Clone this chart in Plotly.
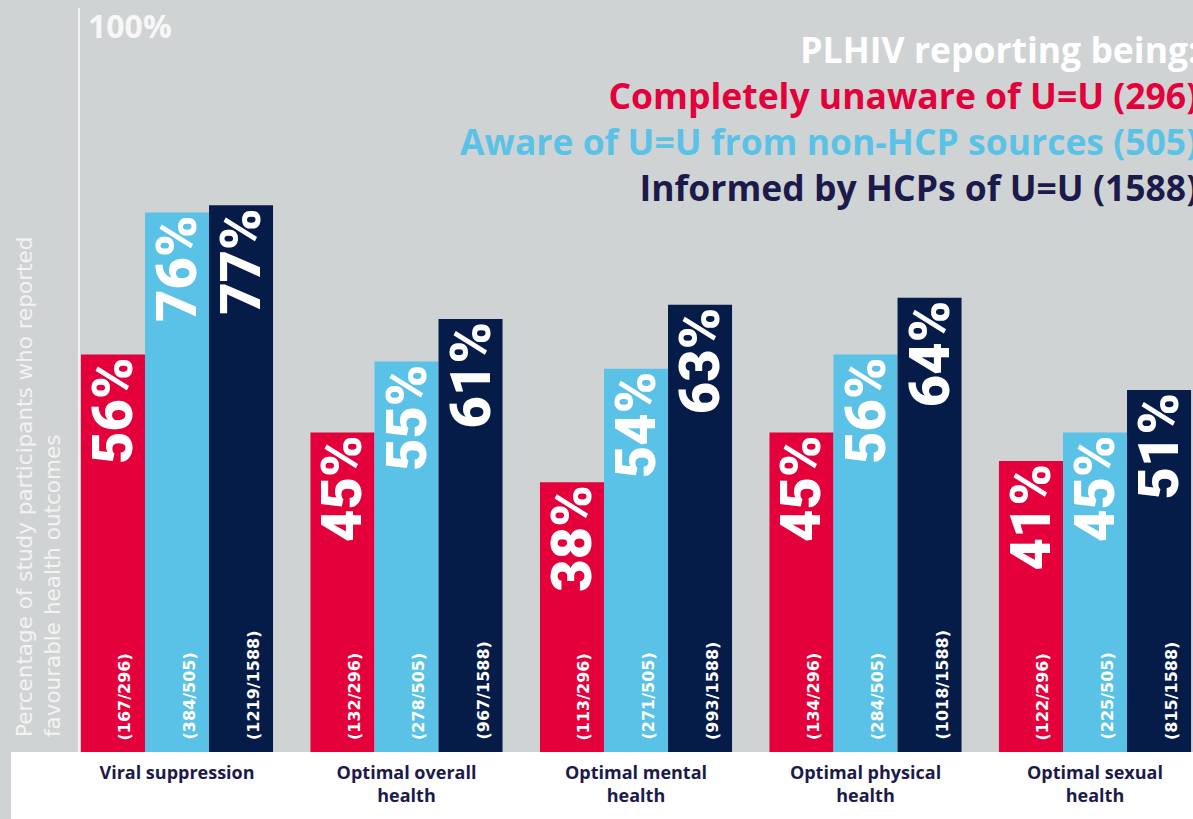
import plotly.graph_objects as go

categories = ["Viral suppression", "Optimal overall health", "Optimal mental health",
              "Optimal physical health", "Optimal sexual health"]
tick_labels = ["Viral suppression", "Optimal overall<br>health", "Optimal mental<br>health",
               "Optimal physical<br>health", "Optimal sexual<br>health"]
series_names = ["Completely unaware of U=U (296)",
                "Aware of U=U from non-HCP sources (505)",
                "Informed by HCPs of U=U (1588)"]
unaware_pct = [56, 45, 38, 45, 41]
aware_pct = [76, 55, 54, 56, 45]
informed_pct = [77, 61, 63, 64, 51]
unaware_counts = ["(167/296)", "(132/296)", "(113/296)", "(134/296)", "(122/296)"]
aware_counts = ["(384/505)", "(278/505)", "(271/505)", "(284/505)", "(225/505)"]
informed_counts = ["(1219/1588)", "(967/1588)", "(993/1588)", "(1018/1588)", "(815/1588)"]

RED = "#e4003b"
BLUE = "#5bc2e7"
NAVY = "#061c48"
GREY = "#d0d3d4"
TEXT_NAVY = "#1c1a4b"

values = [unaware_pct, aware_pct, informed_pct]
counts = [unaware_counts, aware_counts, informed_counts]
colors = [RED, BLUE, NAVY]

BARGAP = 0.163
fig = go.Figure()
for name, vals, col in zip(series_names, values, colors):
    fig.add_trace(go.Bar(
        x=categories, y=vals, name=name, marker=dict(color=col, line=dict(width=0)),
        text=[f"{v}%" for v in vals], textposition="inside", insidetextanchor="end",
        textangle=-90, constraintext="none",
        textfont=dict(family="Roboto", size=56, color="white", weight=900),
        hoverinfo="skip", showlegend=False,
    ))

annotations = []
bar_w = (1 - BARGAP) / 3
for j, cts in enumerate(counts):
    for i, t in enumerate(cts):
        annotations.append(dict(
            x=i + (j - 1) * bar_w, y=0, xref="x", yref="y", text=t, showarrow=False,
            textangle=-90, xanchor="center", yanchor="bottom", xshift=12, yshift=10,
            font=dict(family="DejaVu Sans", size=16, color="white", weight="bold"),
        ))

# y-axis title
annotations.append(dict(
    x=-0.0377, y=0, xref="paper", yref="paper", yanchor="bottom", xanchor="center",
    yshift=13, textangle=-90, showarrow=False, align="left",
    text="Percentage of study participants who reported<br>favourable health outcomes",
    font=dict(family="DejaVu Sans", size=21.5, color="#f2f3f3"),
))
# 100% label
annotations.append(dict(
    x=0.005, y=1, xref="paper", yref="paper", xanchor="left", yanchor="top", yshift=6,
    showarrow=False, text="100%",
    font=dict(family="Open Sans", size=32, color="#f7f7f7", weight="bold"),
))
# legend block
legend_text = ("<span style='color:#ffffff'>PLHIV reporting being:</span><br>"
               f"<span style='color:{RED}'>{series_names[0]}</span><br>"
               f"<span style='color:{BLUE}'>{series_names[1]}</span><br>"
               f"<span style='color:{TEXT_NAVY}'>{series_names[2]}</span>")
annotations.append(dict(
    x=1.006, y=1, xref="paper", yref="paper", xanchor="right", yanchor="top", yshift=-15,
    align="right", showarrow=False, text=legend_text,
    font=dict(family="Open Sans", size=35.5, weight="bold"),
))

fig.update_layout(
    width=1193, height=819,
    margin=dict(l=80, r=0, t=8, b=67),
    paper_bgcolor=GREY, plot_bgcolor=GREY,
    barmode="group", bargap=BARGAP, bargroupgap=0,
    annotations=annotations,
    shapes=[dict(type="rect", xref="paper", yref="paper",
                 x0=(11 - 80) / 1113, x1=1.01, y0=-67 / 744, y1=0,
                 fillcolor="white", line=dict(width=0), layer="below")],
    xaxis=dict(range=[-0.4227, 4.427], tickmode="array", tickvals=categories,
               ticktext=tick_labels, showgrid=False, zeroline=False, showline=False,
               ticks="outside", ticklen=4, tickcolor="rgba(0,0,0,0)",
               tickfont=dict(family="Open Sans", size=18, color=TEXT_NAVY, weight="bold")),
    yaxis=dict(range=[0, 104.8], showticklabels=False, showgrid=False, zeroline=False,
               showline=True, linecolor="#f4f4f4", linewidth=2, ticks=""),
)

fig.write_html("out.html", config={"displayModeBar": False},
               post_script="document.body.style.margin='0';")
